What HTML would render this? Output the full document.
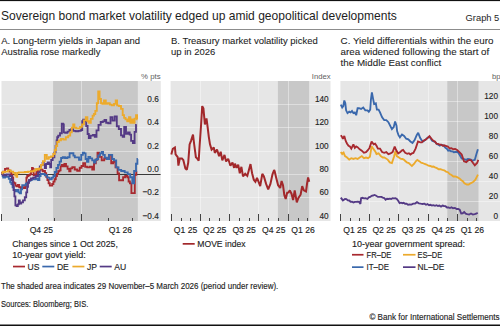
<!DOCTYPE html>
<html><head><meta charset="utf-8"><style>
html,body{margin:0;padding:0;background:#fff;width:500px;height:326px;overflow:hidden}
svg{display:block}
text{font-family:"Liberation Sans",sans-serif}
</style></head><body>
<svg width="500" height="326" viewBox="0 0 500 326">
<rect x="0" y="0" width="500" height="1.1" fill="#111"/>
<rect x="0" y="29" width="500" height="1" fill="#8c8c8c"/>
<rect x="0" y="324.5" width="500" height="1.5" fill="#111"/>
<text x="1" y="20" font-size="12.05" text-anchor="start" fill="#1e1e1e" stroke="#1e1e1e" stroke-width="0" >Sovereign bond market volatility edged up amid geopolitical developments</text>
<text x="499.3" y="20.7" font-size="9.33" text-anchor="end" fill="#1e1e1e" stroke="#1e1e1e" stroke-width="0" >Graph 5</text>
<text x="1.2" y="44.1" font-size="9.5" text-anchor="start" fill="#1e1e1e" stroke="#1e1e1e" stroke-width="0.08" >A. Long-term yields in Japan and</text>
<text x="1.2" y="54.85" font-size="9.5" text-anchor="start" fill="#1e1e1e" stroke="#1e1e1e" stroke-width="0.08" >Australia rose markedly</text>
<text x="171" y="44.1" font-size="9.5" text-anchor="start" fill="#1e1e1e" stroke="#1e1e1e" stroke-width="0.08" >B. Treasury market volatility picked</text>
<text x="171" y="54.85" font-size="9.5" text-anchor="start" fill="#1e1e1e" stroke="#1e1e1e" stroke-width="0.08" >up in 2026</text>
<text x="340.6" y="44.1" font-size="9.8" text-anchor="start" fill="#1e1e1e" stroke="#1e1e1e" stroke-width="0.08" >C. Yield differentials within the euro</text>
<text x="340.6" y="54.85" font-size="9.8" text-anchor="start" fill="#1e1e1e" stroke="#1e1e1e" stroke-width="0.08" >area widened following the start of</text>
<text x="340.6" y="65.6" font-size="9.8" text-anchor="start" fill="#1e1e1e" stroke="#1e1e1e" stroke-width="0.08" >the Middle East conflict</text>
<rect x="1.5" y="81" width="159.3" height="140" fill="#e6e6e6"/>
<rect x="53.1" y="81" width="84.70000000000002" height="140" fill="#c8c8c8"/>
<rect x="1.5" y="104" width="159.3" height="1" fill="rgba(255,255,255,0.4)"/>
<rect x="1.5" y="127" width="159.3" height="1" fill="rgba(255,255,255,0.4)"/>
<rect x="1.5" y="151" width="159.3" height="1" fill="rgba(255,255,255,0.4)"/>
<rect x="1.5" y="197" width="159.3" height="1" fill="rgba(255,255,255,0.4)"/>
<rect x="81" y="81" width="1" height="140" fill="rgba(255,255,255,0.4)"/>
<rect x="1" y="214" width="1" height="7" fill="#444"/>
<rect x="81" y="214" width="1" height="7" fill="#444"/>
<rect x="28" y="218" width="1" height="3" fill="#444"/>
<rect x="54" y="218" width="1" height="3" fill="#444"/>
<rect x="108" y="218" width="1" height="3" fill="#444"/>
<rect x="132" y="218" width="1" height="3" fill="#444"/>
<rect x="170.6" y="81" width="159.9" height="140" fill="#e6e6e6"/>
<rect x="277.9044" y="81" width="31.204899999999952" height="140" fill="#c8c8c8"/>
<rect x="170.6" y="104" width="159.9" height="1" fill="rgba(255,255,255,0.4)"/>
<rect x="170.6" y="127" width="159.9" height="1" fill="rgba(255,255,255,0.4)"/>
<rect x="170.6" y="151" width="159.9" height="1" fill="rgba(255,255,255,0.4)"/>
<rect x="170.6" y="174" width="159.9" height="1" fill="rgba(255,255,255,0.4)"/>
<rect x="170.6" y="197" width="159.9" height="1" fill="rgba(255,255,255,0.4)"/>
<rect x="200" y="81" width="1" height="140" fill="rgba(255,255,255,0.4)"/>
<rect x="229" y="81" width="1" height="140" fill="rgba(255,255,255,0.4)"/>
<rect x="258" y="81" width="1" height="140" fill="rgba(255,255,255,0.4)"/>
<rect x="288" y="81" width="1" height="140" fill="rgba(255,255,255,0.4)"/>
<rect x="171" y="214" width="1" height="7" fill="#444"/>
<rect x="200" y="214" width="1" height="7" fill="#444"/>
<rect x="229" y="214" width="1" height="7" fill="#444"/>
<rect x="258" y="214" width="1" height="7" fill="#444"/>
<rect x="288" y="214" width="1" height="7" fill="#444"/>
<rect x="181" y="218" width="1" height="3" fill="#444"/>
<rect x="190" y="218" width="1" height="3" fill="#444"/>
<rect x="209" y="218" width="1" height="3" fill="#444"/>
<rect x="219" y="218" width="1" height="3" fill="#444"/>
<rect x="239" y="218" width="1" height="3" fill="#444"/>
<rect x="249" y="218" width="1" height="3" fill="#444"/>
<rect x="268" y="218" width="1" height="3" fill="#444"/>
<rect x="278" y="218" width="1" height="3" fill="#444"/>
<rect x="298" y="218" width="1" height="3" fill="#444"/>
<rect x="307" y="218" width="1" height="3" fill="#444"/>
<rect x="340.4" y="81" width="159.60000000000002" height="140" fill="#e6e6e6"/>
<rect x="447.3044" y="81" width="31.20490000000001" height="140" fill="#c8c8c8"/>
<rect x="340.4" y="101" width="159.60000000000002" height="1" fill="rgba(255,255,255,0.4)"/>
<rect x="340.4" y="121" width="159.60000000000002" height="1" fill="rgba(255,255,255,0.4)"/>
<rect x="340.4" y="141" width="159.60000000000002" height="1" fill="rgba(255,255,255,0.4)"/>
<rect x="340.4" y="161" width="159.60000000000002" height="1" fill="rgba(255,255,255,0.4)"/>
<rect x="340.4" y="181" width="159.60000000000002" height="1" fill="rgba(255,255,255,0.4)"/>
<rect x="340.4" y="201" width="159.60000000000002" height="1" fill="rgba(255,255,255,0.4)"/>
<rect x="369" y="81" width="1" height="140" fill="rgba(255,255,255,0.4)"/>
<rect x="398" y="81" width="1" height="140" fill="rgba(255,255,255,0.4)"/>
<rect x="428" y="81" width="1" height="140" fill="rgba(255,255,255,0.4)"/>
<rect x="457" y="81" width="1" height="140" fill="rgba(255,255,255,0.4)"/>
<rect x="340" y="214" width="1" height="7" fill="#444"/>
<rect x="369" y="214" width="1" height="7" fill="#444"/>
<rect x="398" y="214" width="1" height="7" fill="#444"/>
<rect x="428" y="214" width="1" height="7" fill="#444"/>
<rect x="457" y="214" width="1" height="7" fill="#444"/>
<rect x="350" y="218" width="1" height="3" fill="#444"/>
<rect x="359" y="218" width="1" height="3" fill="#444"/>
<rect x="379" y="218" width="1" height="3" fill="#444"/>
<rect x="389" y="218" width="1" height="3" fill="#444"/>
<rect x="408" y="218" width="1" height="3" fill="#444"/>
<rect x="418" y="218" width="1" height="3" fill="#444"/>
<rect x="438" y="218" width="1" height="3" fill="#444"/>
<rect x="447" y="218" width="1" height="3" fill="#444"/>
<rect x="467" y="218" width="1" height="3" fill="#444"/>
<rect x="476" y="218" width="1" height="3" fill="#444"/>
<rect x="1.5" y="174" width="159.1" height="1" fill="#3a3a3a"/>
<polyline points="1.8,173.5 2.1,173.5 2.1,172.8 3.2,172.8 3.2,171.6 5.0,171.6 5.0,168.8 6.8,168.8 6.8,168.4 8.2,168.4 8.2,170.4 9.6,170.4 9.6,171.6 11.2,171.6 11.2,174.4 12.4,174.4 12.4,177.6 13.2,177.6 13.2,182.4 14.2,182.4 14.2,183.2 15.4,183.2 15.4,185.6 16.6,185.6 16.6,186.4 17.8,186.4 17.8,184.8 19.2,184.8 19.2,187.2 20.8,187.2 20.8,188.0 22.4,188.0 22.4,187.2 24.0,187.2 24.0,188.0 25.4,188.0 25.4,185.6 26.4,185.6 26.4,177.6 27.2,177.6 27.2,176.0 28.4,176.0 28.4,175.2 29.8,175.2 29.8,174.4 31.0,174.4 31.0,171.2 32.0,171.2 32.0,168.0 32.8,168.0 32.8,168.8 33.6,168.8 33.6,175.2 34.8,175.2 34.8,174.4 36.4,174.4 36.4,172.0 38.0,172.0 38.0,170.4 39.6,170.4 39.6,168.8 41.2,168.8 41.2,169.6 42.6,169.6 42.6,171.2 43.8,171.2 43.8,170.8 45.0,170.8 45.0,173.2 46.2,173.2 46.2,176.8 47.4,176.8 47.4,180.0 48.6,180.0 48.6,183.2 49.8,183.2 49.8,185.6 51.0,185.6 51.0,185.6 52.2,185.6 52.2,184.0 53.4,184.0 53.4,181.6 54.6,181.6 54.6,179.2 55.8,179.2 55.8,176.0 57.0,176.0 57.0,173.6 58.2,173.6 58.2,171.2 59.4,171.2 59.4,170.4 60.6,170.4 60.6,166.4 61.8,166.4 61.8,164.8 63.0,164.8 63.0,166.4 64.4,166.4 64.4,164.0 66.0,164.0 66.0,166.4 67.6,166.4 67.6,168.8 69.2,168.8 69.2,171.2 70.5,171.2 70.5,168.3 72.3,168.3 72.3,167.1 74.7,167.1 74.7,169.5 77.2,169.5 77.2,170.7 79.7,170.7 79.7,167.7 81.5,167.7 81.5,166.0 83.2,166.0 83.2,163.2 85.2,163.2 85.2,166.7 87.3,166.7 87.3,167.4 89.8,167.4 89.8,166.7 92.2,166.7 92.2,169.5 94.0,169.5 94.0,163.2 95.8,163.2 95.8,159.7 97.5,159.7 97.5,152.7 99.2,152.7 99.2,156.9 101.7,156.9 101.7,160.4 104.2,160.4 104.2,158.3 106.6,158.3 106.6,159.0 109.0,159.0 109.0,154.8 111.2,154.8 111.2,163.2 113.2,163.2 113.2,161.8 115.5,161.8 115.5,167.4 117.6,167.4 117.6,173.5 119.1,173.5 119.1,180.2 121.0,180.2 121.0,180.2 123.1,180.2 123.1,177.2 125.2,177.2 125.2,176.0 127.4,176.0 127.4,177.2 128.6,177.2 128.6,181.5 129.9,181.5 129.9,183.3 131.4,183.3 131.4,193.1 132.9,193.1 132.9,193.1 134.8,193.1 134.8,174.7 136.3,174.7 136.3,171.0 136.9,171.0" fill="none" stroke="#a8292f" stroke-width="1.85" stroke-linejoin="miter" stroke-miterlimit="2" stroke-linecap="butt"/>
<polyline points="1.8,176.0 2.1,176.0 2.1,176.0 3.2,176.0 3.2,177.6 5.0,177.6 5.0,176.8 7.0,176.8 7.0,176.4 8.8,176.4 8.8,178.8 10.2,178.8 10.2,182.4 11.4,182.4 11.4,184.0 12.6,184.0 12.6,187.2 13.8,187.2 13.8,190.0 15.2,190.0 15.2,191.2 17.0,191.2 17.0,190.0 18.6,190.0 18.6,192.4 19.8,192.4 19.8,193.2 21.0,193.2 21.0,189.2 22.2,189.2 22.2,185.2 23.8,185.2 23.8,185.2 25.8,185.2 25.8,183.6 27.4,183.6 27.4,182.4 28.8,182.4 28.8,180.8 30.4,180.8 30.4,180.0 31.8,180.0 31.8,179.2 33.6,179.2 33.6,179.2 36.0,179.2 36.0,178.4 38.0,178.4 38.0,180.0 39.4,180.0 39.4,176.0 40.6,176.0 40.6,174.0 42.4,174.0 42.4,174.0 44.8,174.0 44.8,175.2 47.2,175.2 47.2,177.6 49.6,177.6 49.6,179.2 51.8,179.2 51.8,177.6 53.4,177.6 53.4,176.0 54.8,176.0 54.8,172.0 56.4,172.0 56.4,168.0 58.0,168.0 58.0,164.8 59.6,164.8 59.6,161.6 61.1,161.6 61.1,158.0 62.8,158.0 62.8,157.2 65.0,157.2 65.0,158.0 67.4,158.0 67.4,157.2 69.6,157.2 69.6,153.2 71.6,153.2 71.6,153.2 73.4,153.2 73.4,155.6 74.8,155.6 74.8,157.3 76.6,157.3 76.6,157.3 79.0,157.3 79.0,159.7 81.2,159.7 81.2,154.8 82.8,154.8 82.8,152.7 84.2,152.7 84.2,153.4 85.6,153.4 85.6,159.0 87.0,159.0 87.0,161.8 88.4,161.8 88.4,156.9 90.2,156.9 90.2,158.3 92.2,158.3 92.2,160.4 94.0,160.4 94.0,162.5 95.4,162.5 95.4,159.7 96.8,159.7 96.8,159.0 98.2,159.0 98.2,155.5 100.0,155.5 100.0,153.4 101.7,153.4 101.7,152.0 103.1,152.0 103.1,154.8 104.8,154.8 104.8,157.6 107.0,157.6 107.0,159.0 109.0,159.0 109.0,154.8 110.8,154.8 110.8,154.8 112.2,154.8 112.2,159.0 114.0,159.0 114.0,160.4 116.2,160.4 116.2,167.4 118.5,167.4 118.5,169.8 121.2,169.8 121.2,171.0 124.7,171.0 124.7,172.3 127.7,172.3 127.7,174.1 130.2,174.1 130.2,177.2 132.3,177.2 132.3,183.3 134.1,183.3 134.1,171.0 136.0,171.0 136.0,163.7 137.4,163.7 137.4,159.0 137.9,159.0" fill="none" stroke="#3a68ac" stroke-width="1.85" stroke-linejoin="miter" stroke-miterlimit="2" stroke-linecap="butt"/>
<polyline points="1.8,174.7 2.1,174.7 2.1,174.4 3.6,174.4 3.6,175.2 6.4,175.2 6.4,174.4 9.6,174.4 9.6,176.0 11.8,176.0 11.8,180.0 12.8,180.0 12.8,184.8 13.6,184.8 13.6,190.0 14.4,190.0 14.4,196.4 15.4,196.4 15.4,205.2 16.6,205.2 16.6,206.0 17.8,206.0 17.8,204.4 18.8,204.4 18.8,200.4 19.8,200.4 19.8,203.6 21.2,203.6 21.2,202.4 23.0,202.4 23.0,200.4 24.8,200.4 24.8,197.2 26.2,197.2 26.2,192.4 27.2,192.4 27.2,186.8 28.0,186.8 28.0,182.8 29.0,182.8 29.0,180.0 30.8,180.0 30.8,178.4 33.2,178.4 33.2,177.6 35.6,177.6 35.6,176.0 38.0,176.0 38.0,172.6 39.8,172.6 39.8,166.4 41.2,166.4 41.2,164.8 42.6,164.8 42.6,162.8 43.8,162.8 43.8,164.8 44.8,164.8 44.8,168.0 46.0,168.0 46.0,164.0 47.6,164.0 47.6,162.4 49.0,162.4 49.0,164.0 50.2,164.0 50.2,167.2 51.2,167.2 51.2,160.0 52.7,160.0 52.7,157.2 54.4,157.2 54.4,152.4 55.6,152.4 55.6,146.0 56.6,146.0 56.6,140.4 57.2,140.4 57.2,137.2 58.2,137.2 58.2,135.6 60.0,135.6 60.0,133.2 61.8,133.2 61.8,123.6 63.0,123.6 63.0,124.4 63.8,124.4 63.8,132.4 65.2,132.4 65.2,132.8 67.4,132.8 67.4,131.6 69.4,131.6 69.4,130.0 71.2,130.0 71.2,129.2 73.2,129.2 73.2,130.8 75.6,130.8 75.6,131.2 78.4,131.2 78.4,130.8 80.8,130.8 80.8,130.0 82.2,130.0 82.2,121.2 83.2,121.2 83.2,119.6 84.6,119.6 84.6,120.8 86.2,120.8 86.2,126.0 87.6,126.0 87.6,134.0 88.8,134.0 88.8,138.0 90.6,138.0 90.6,135.6 93.0,135.6 93.0,134.8 94.8,134.8 94.8,136.7 96.5,136.7 96.5,130.4 98.5,130.4 98.5,124.8 100.7,124.8 100.7,122.0 102.8,122.0 102.8,121.3 104.5,121.3 104.5,119.9 106.2,119.9 106.2,122.7 108.3,122.7 108.3,123.4 110.5,123.4 110.5,117.1 112.5,117.1 112.5,120.6 114.7,120.6 114.7,116.4 116.8,116.4 116.8,126.2 118.8,126.2 118.8,129.0 121.0,129.0 121.0,135.3 122.7,135.3 122.7,136.7 124.2,136.7 124.2,126.9 126.0,126.9 126.0,133.9 128.0,133.9 128.0,132.5 129.7,132.5 129.7,134.6 131.1,134.6 131.1,140.9 132.9,140.9 132.9,143.0 134.6,143.0 134.6,131.8 136.0,131.8 136.0,124.8 136.7,124.8" fill="none" stroke="#543a85" stroke-width="1.85" stroke-linejoin="miter" stroke-miterlimit="2" stroke-linecap="butt"/>
<polyline points="1.8,173.4 2.5,173.4 2.5,172.0 4.8,172.0 4.8,171.6 8.0,171.6 8.0,170.4 10.8,170.4 10.8,171.6 13.2,171.6 13.2,172.8 15.2,172.8 15.2,175.2 16.4,175.2 16.4,176.8 17.2,176.8 17.2,172.8 18.8,172.8 18.8,172.4 21.6,172.4 21.6,172.4 24.8,172.4 24.8,172.0 28.0,172.0 28.0,171.6 31.2,171.6 31.2,171.2 34.0,171.2 34.0,170.4 36.0,170.4 36.0,168.8 37.6,168.8 37.6,169.6 39.2,169.6 39.2,168.4 41.0,168.4 41.0,164.8 42.9,164.8 42.9,161.2 44.8,161.2 44.8,154.8 46.8,154.8 46.8,158.8 48.8,158.8 48.8,157.2 51.0,157.2 51.0,156.4 53.2,156.4 53.2,154.0 54.8,154.0 54.8,150.0 56.0,150.0 56.0,146.0 57.2,146.0 57.2,142.0 58.8,142.0 58.8,140.4 61.0,140.4 61.0,138.8 63.4,138.8 63.4,139.6 65.8,139.6 65.8,137.2 68.2,137.2 68.2,135.6 70.2,135.6 70.2,132.4 71.8,132.4 71.8,127.6 73.2,127.6 73.2,124.4 74.4,124.4 74.4,127.6 76.2,127.6 76.2,128.4 78.2,128.4 78.2,128.4 80.0,128.4 80.0,126.8 82.0,126.8 82.0,124.4 84.0,124.4 84.0,120.4 85.8,120.4 85.8,117.2 87.4,117.2 87.4,121.2 89.0,121.2 89.0,122.8 90.8,122.8 90.8,118.8 92.6,118.8 92.6,115.6 94.0,115.6 94.0,114.0 95.3,114.0 95.3,110.9 96.8,110.9 96.8,103.2 98.2,103.2 98.2,91.3 99.6,91.3 99.6,99.0 101.0,99.0 101.0,103.2 102.4,103.2 102.4,103.9 104.0,103.9 104.0,100.4 105.8,100.4 105.8,103.9 107.7,103.9 107.7,103.2 109.8,103.2 109.8,104.6 111.8,104.6 111.8,105.3 114.0,105.3 114.0,103.9 115.7,103.9 115.7,100.4 117.1,100.4 117.1,105.3 118.8,105.3 118.8,106.0 121.0,106.0 121.0,108.8 122.7,108.8 122.7,115.1 124.1,115.1 124.1,117.9 125.5,117.9 125.5,119.3 127.2,119.3 127.2,121.4 129.0,121.4 129.0,117.2 130.4,117.2 130.4,122.8 131.8,122.8 131.8,119.3 133.2,119.3 133.2,122.8 134.6,122.8 134.6,118.6 136.0,118.6 136.0,115.1 137.1,115.1 137.1,119.3 137.4,119.3" fill="none" stroke="#ecaa2c" stroke-width="1.85" stroke-linejoin="miter" stroke-miterlimit="2" stroke-linecap="butt"/>
<polyline points="171.3,154.4 172.8,148.8 174.9,147.4 175.6,154.4 177.7,157.2 178.4,165.6 179.8,158.6 181.9,158.6 183.3,160.0 185.4,168.4 186.8,169.8 188.2,162.8 189.6,144.5 191.1,140.6 193.0,134.5 194.2,144.5 195.9,157.2 197.3,158.6 198.7,160.7 199.6,146.0 201.1,124.5 202.2,106.1 203.4,108.4 204.2,116.9 204.9,124.5 206.5,118.4 207.7,127.6 208.8,136.8 210.0,144.3 211.6,149.6 213.8,147.5 214.8,152.9 217.0,149.6 219.1,156.1 220.7,151.8 222.3,160.4 224.5,155.0 226.1,161.4 228.2,158.8 230.4,165.7 232.5,162.5 234.1,167.9 235.0,163.6 236.6,167.9 238.2,164.6 239.8,173.2 241.4,166.8 243.0,176.4 245.2,173.8 247.3,175.9 248.9,170.0 250.5,164.1 252.1,173.2 253.8,179.7 255.4,181.8 257.0,178.0 258.6,181.8 260.2,186.1 262.3,173.8 263.9,176.4 266.1,183.9 268.2,189.3 270.4,183.9 272.5,174.3 274.1,170.0 274.7,171.4 276.0,176.9 278.1,185.2 280.2,188.0 281.6,181.0 283.0,185.2 284.3,194.9 285.7,199.0 287.2,192.6 288.5,192.5 289.8,190.4 291.5,193.7 293.1,200.1 294.7,190.4 296.8,202.3 298.4,198.0 300.6,194.7 302.2,186.1 303.8,190.4 306.0,191.5 307.0,184.0 308.1,177.5 309.2,181.8" fill="none" stroke="#a2282b" stroke-width="2.0" stroke-linejoin="miter" stroke-miterlimit="2" stroke-linecap="butt"/>
<polyline points="340.8,197.6 342.9,200.4 345.0,199.0 346.4,199.1 347.8,200.4 349.2,200.5 350.6,201.8 352.0,201.7 353.4,202.5 354.8,201.8 356.2,201.8 357.6,201.6 359.0,201.8 360.4,203.9 361.1,198.3 362.5,197.8 363.9,198.3 365.6,198.2 367.4,199.0 368.8,197.4 370.2,196.9 371.6,195.8 373.0,195.5 374.4,194.9 375.8,195.5 377.9,196.9 380.0,196.9 381.4,196.9 382.8,197.6 384.2,198.0 385.6,199.7 387.0,198.8 388.4,199.0 389.8,198.6 391.2,199.0 392.6,198.2 394.0,198.3 395.4,198.1 396.8,199.0 398.2,200.8 399.6,203.2 401.0,202.7 402.4,203.2 403.7,202.8 405.0,203.7 406.5,203.6 408.0,204.8 409.5,204.5 411.4,204.6 413.2,203.7 415.1,203.6 417.0,202.2 418.9,203.3 420.7,203.7 422.6,204.0 424.5,203.7 426.0,204.8 427.5,204.1 429.0,205.2 430.5,204.8 432.0,205.5 433.5,205.2 435.0,205.8 436.5,205.2 438.0,206.0 439.5,205.6 441.0,206.7 442.5,205.5 444.0,206.0 445.5,206.2 447.0,207.5 448.5,207.5 450.0,208.1 451.5,207.3 453.0,208.2 454.9,207.9 456.7,209.0 458.2,208.9 459.7,209.7 461.2,213.5 462.7,213.3 464.2,212.0 465.7,213.7 467.2,214.2 469.1,214.5 471.0,213.5 472.9,214.5 474.7,214.2 476.2,213.7 477.7,212.7" fill="none" stroke="#543a85" stroke-width="1.85" stroke-linejoin="miter" stroke-miterlimit="2" stroke-linecap="butt"/>
<polyline points="340.8,151.9 342.2,154.0 343.6,152.6 345.0,156.1 347.1,157.5 349.2,159.6 351.3,158.2 353.4,158.9 355.5,158.2 357.6,158.9 359.7,157.5 361.8,156.1 363.9,158.2 366.0,157.5 368.1,158.2 369.9,156.8 371.6,146.3 373.0,148.4 375.1,151.2 376.5,154.0 378.6,153.3 380.7,156.1 382.8,157.5 384.2,157.5 385.6,158.2 387.7,159.6 389.8,162.4 391.9,163.1 394.0,156.8 395.4,151.2 396.8,156.1 398.9,157.5 401.0,158.9 402.4,159.0 403.8,159.6 405.0,160.7 406.9,162.4 408.8,163.0 410.4,164.7 411.9,166.0 414.2,163.7 415.8,161.3 417.3,159.9 419.6,161.4 421.1,162.6 422.6,163.0 424.6,164.0 426.5,164.5 428.4,165.7 430.3,166.0 431.9,166.7 433.4,166.5 435.0,167.4 436.9,168.1 438.7,169.2 440.5,169.2 442.4,169.8 444.2,170.3 446.0,171.6 447.9,172.2 449.7,174.1 451.5,175.0 453.4,176.5 455.2,176.5 457.1,177.2 459.5,178.4 461.3,180.2 462.9,181.2 464.4,183.3 466.9,184.5 468.7,184.6 470.5,183.3 473.0,182.1 475.4,179.6 477.3,175.9 477.9,174.7" fill="none" stroke="#ecaa2c" stroke-width="1.85" stroke-linejoin="miter" stroke-miterlimit="2" stroke-linecap="butt"/>
<polyline points="340.8,104.7 342.2,107.5 343.3,106.1 344.3,100.5 345.3,103.3 346.1,110.3 347.5,113.1 349.2,111.7 350.6,112.4 352.0,111.0 353.4,113.1 354.8,112.4 356.2,115.2 357.6,108.2 359.0,108.2 361.1,108.9 363.2,107.5 365.3,110.3 367.4,110.3 368.8,111.7 370.2,109.6 370.9,99.8 371.9,92.5 373.0,98.4 374.1,104.0 375.8,103.3 376.9,109.6 378.6,109.6 380.0,112.4 382.1,117.3 384.2,120.1 386.3,120.1 388.4,122.2 390.5,126.4 391.9,129.2 393.7,127.1 395.1,121.5 396.5,125.7 397.1,131.0 398.5,135.2 399.9,137.3 402.0,134.5 404.1,135.9 406.2,138.7 408.3,139.4 410.4,141.5 412.5,142.9 414.6,140.1 416.7,135.2 418.2,132.8 420.2,138.0 421.6,140.1 423.0,141.5 425.1,140.1 427.2,138.0 428.6,137.2 430.0,137.3 432.1,140.8 434.2,141.5 435.6,142.5 437.0,144.3 438.4,144.7 439.8,145.7 441.2,144.7 442.6,145.0 444.0,146.2 445.4,147.8 446.8,148.7 448.2,150.6 449.6,150.3 451.0,151.3 452.4,151.3 453.8,152.2 455.2,152.0 457.5,151.8 459.4,154.5 461.7,158.4 464.0,159.1 466.3,159.9 467.9,159.0 469.4,159.1 470.9,159.7 472.5,160.7 474.8,159.9 476.3,154.5 477.9,149.2" fill="none" stroke="#3a68ac" stroke-width="1.85" stroke-linejoin="miter" stroke-miterlimit="2" stroke-linecap="butt"/>
<polyline points="340.8,135.3 341.9,136.7 342.9,138.8 344.3,136.0 345.7,140.9 347.1,143.7 348.5,145.8 349.9,146.5 351.3,148.6 353.4,144.4 354.8,147.9 356.2,146.5 357.6,147.2 359.7,149.3 361.8,150.7 363.9,152.8 366.0,152.1 368.1,150.0 369.5,147.9 371.6,141.6 373.7,144.4 375.1,143.7 376.5,145.8 377.9,148.6 380.0,148.6 382.1,152.1 384.2,152.8 386.3,152.1 388.4,154.2 390.5,153.5 392.6,152.1 394.7,146.5 396.1,150.0 398.2,153.5 400.3,152.1 401.7,150.6 403.1,150.0 405.2,152.8 407.3,153.8 408.9,153.2 410.4,154.5 411.9,153.4 413.4,153.0 415.7,148.4 418.0,141.5 420.3,142.3 421.9,142.3 423.4,140.7 425.3,139.9 427.2,138.4 429.5,136.1 431.8,139.2 433.4,140.8 434.9,141.5 436.4,143.6 438.0,143.8 439.5,144.6 441.0,144.6 442.6,145.7 444.1,145.3 446.4,146.1 447.9,146.6 449.5,148.4 451.4,148.2 453.3,149.2 455.2,148.9 457.1,149.9 459.4,152.2 461.7,154.5 464.0,161.4 466.3,162.2 467.9,160.6 469.4,159.9 470.9,160.2 472.5,162.2 474.8,165.3 477.1,163.0 478.3,159.9" fill="none" stroke="#a8292f" stroke-width="1.85" stroke-linejoin="miter" stroke-miterlimit="2" stroke-linecap="butt"/>
<g transform="translate(158.8,101.8) scale(0.9,1)"><text x="0" y="0" font-size="9.15" text-anchor="end" fill="#1e1e1e" stroke="#1e1e1e" stroke-width="0.14" >0.6</text></g>
<g transform="translate(158.8,125.2) scale(0.9,1)"><text x="0" y="0" font-size="9.15" text-anchor="end" fill="#1e1e1e" stroke="#1e1e1e" stroke-width="0.14" >0.4</text></g>
<g transform="translate(158.8,148.5) scale(0.9,1)"><text x="0" y="0" font-size="9.15" text-anchor="end" fill="#1e1e1e" stroke="#1e1e1e" stroke-width="0.14" >0.2</text></g>
<g transform="translate(158.8,171.8) scale(0.9,1)"><text x="0" y="0" font-size="9.15" text-anchor="end" fill="#1e1e1e" stroke="#1e1e1e" stroke-width="0.14" >0.0</text></g>
<g transform="translate(158.8,195.2) scale(0.9,1)"><text x="0" y="0" font-size="9.15" text-anchor="end" fill="#1e1e1e" stroke="#1e1e1e" stroke-width="0.14" >−0.2</text></g>
<g transform="translate(158.8,218.5) scale(0.9,1)"><text x="0" y="0" font-size="9.15" text-anchor="end" fill="#1e1e1e" stroke="#1e1e1e" stroke-width="0.14" >−0.4</text></g>
<g transform="translate(328.7,101.8) scale(0.9,1)"><text x="0" y="0" font-size="9.15" text-anchor="end" fill="#1e1e1e" stroke="#1e1e1e" stroke-width="0.14" >140</text></g>
<g transform="translate(328.7,125.2) scale(0.9,1)"><text x="0" y="0" font-size="9.15" text-anchor="end" fill="#1e1e1e" stroke="#1e1e1e" stroke-width="0.14" >120</text></g>
<g transform="translate(328.7,148.5) scale(0.9,1)"><text x="0" y="0" font-size="9.15" text-anchor="end" fill="#1e1e1e" stroke="#1e1e1e" stroke-width="0.14" >100</text></g>
<g transform="translate(328.7,171.8) scale(0.9,1)"><text x="0" y="0" font-size="9.15" text-anchor="end" fill="#1e1e1e" stroke="#1e1e1e" stroke-width="0.14" >80</text></g>
<g transform="translate(328.7,195.2) scale(0.9,1)"><text x="0" y="0" font-size="9.15" text-anchor="end" fill="#1e1e1e" stroke="#1e1e1e" stroke-width="0.14" >60</text></g>
<g transform="translate(328.7,218.5) scale(0.9,1)"><text x="0" y="0" font-size="9.15" text-anchor="end" fill="#1e1e1e" stroke="#1e1e1e" stroke-width="0.14" >40</text></g>
<g transform="translate(498,98.5) scale(0.9,1)"><text x="0" y="0" font-size="9.15" text-anchor="end" fill="#1e1e1e" stroke="#1e1e1e" stroke-width="0.14" >120</text></g>
<g transform="translate(498,118.5) scale(0.9,1)"><text x="0" y="0" font-size="9.15" text-anchor="end" fill="#1e1e1e" stroke="#1e1e1e" stroke-width="0.14" >100</text></g>
<g transform="translate(498,138.5) scale(0.9,1)"><text x="0" y="0" font-size="9.15" text-anchor="end" fill="#1e1e1e" stroke="#1e1e1e" stroke-width="0.14" >80</text></g>
<g transform="translate(498,158.5) scale(0.9,1)"><text x="0" y="0" font-size="9.15" text-anchor="end" fill="#1e1e1e" stroke="#1e1e1e" stroke-width="0.14" >60</text></g>
<g transform="translate(498,178.5) scale(0.9,1)"><text x="0" y="0" font-size="9.15" text-anchor="end" fill="#1e1e1e" stroke="#1e1e1e" stroke-width="0.14" >40</text></g>
<g transform="translate(498,198.5) scale(0.9,1)"><text x="0" y="0" font-size="9.15" text-anchor="end" fill="#1e1e1e" stroke="#1e1e1e" stroke-width="0.14" >20</text></g>
<g transform="translate(498,218.5) scale(0.9,1)"><text x="0" y="0" font-size="9.15" text-anchor="end" fill="#1e1e1e" stroke="#1e1e1e" stroke-width="0.14" >0</text></g>
<text x="160.6" y="79" font-size="7.8" text-anchor="end" fill="#5e5e5e" stroke="#5e5e5e" stroke-width="0" >% pts</text>
<text x="330.6" y="79" font-size="7.7" text-anchor="end" fill="#5e5e5e" stroke="#5e5e5e" stroke-width="0" >Index</text>
<text x="500.5" y="79" font-size="7.7" text-anchor="end" fill="#5e5e5e" stroke="#5e5e5e" stroke-width="0" >bp</text>
<text x="41.373999999999995" y="233" font-size="8.6" text-anchor="middle" fill="#1e1e1e" stroke="#1e1e1e" stroke-width="0.14" >Q4 25</text>
<text x="120.453" y="233" font-size="8.6" text-anchor="middle" fill="#1e1e1e" stroke="#1e1e1e" stroke-width="0.14" >Q1 26</text>
<text x="185.57649999999998" y="233" font-size="8.6" text-anchor="middle" fill="#1e1e1e" stroke="#1e1e1e" stroke-width="0.14" >Q1 25</text>
<text x="354.9765" y="233" font-size="8.6" text-anchor="middle" fill="#1e1e1e" stroke="#1e1e1e" stroke-width="0.14" >Q1 25</text>
<text x="214.69035" y="233" font-size="8.6" text-anchor="middle" fill="#1e1e1e" stroke="#1e1e1e" stroke-width="0.14" >Q2 25</text>
<text x="384.09035" y="233" font-size="8.6" text-anchor="middle" fill="#1e1e1e" stroke="#1e1e1e" stroke-width="0.14" >Q2 25</text>
<text x="244.1259" y="233" font-size="8.6" text-anchor="middle" fill="#1e1e1e" stroke="#1e1e1e" stroke-width="0.14" >Q3 25</text>
<text x="413.5259" y="233" font-size="8.6" text-anchor="middle" fill="#1e1e1e" stroke="#1e1e1e" stroke-width="0.14" >Q3 25</text>
<text x="273.7223" y="233" font-size="8.6" text-anchor="middle" fill="#1e1e1e" stroke="#1e1e1e" stroke-width="0.14" >Q4 25</text>
<text x="443.1223" y="233" font-size="8.6" text-anchor="middle" fill="#1e1e1e" stroke="#1e1e1e" stroke-width="0.14" >Q4 25</text>
<text x="302.99699999999996" y="233" font-size="8.6" text-anchor="middle" fill="#1e1e1e" stroke="#1e1e1e" stroke-width="0.14" >Q1 26</text>
<text x="472.397" y="233" font-size="8.6" text-anchor="middle" fill="#1e1e1e" stroke="#1e1e1e" stroke-width="0.14" >Q1 26</text>
<text x="12.3" y="247.2" font-size="8.75" text-anchor="start" fill="#1e1e1e" stroke="#1e1e1e" stroke-width="0.14" >Changes since 1 Oct 2025,</text>
<text x="12.3" y="258.4" font-size="9.0" text-anchor="start" fill="#1e1e1e" stroke="#1e1e1e" stroke-width="0.14" >10-year govt yield:</text>
<rect x="13" y="265.7" width="12" height="1.7" fill="#a8292f"/>
<text x="27.6" y="269.6" font-size="8.6" text-anchor="start" fill="#1e1e1e" stroke="#1e1e1e" stroke-width="0.14" >US</text>
<rect x="42.3" y="265.7" width="12" height="1.7" fill="#3a68ac"/>
<text x="56.9" y="269.6" font-size="8.6" text-anchor="start" fill="#1e1e1e" stroke="#1e1e1e" stroke-width="0.14" >DE</text>
<rect x="72.4" y="265.7" width="12" height="1.7" fill="#ecaa2c"/>
<text x="87.0" y="269.6" font-size="8.6" text-anchor="start" fill="#1e1e1e" stroke="#1e1e1e" stroke-width="0.14" >JP</text>
<rect x="99.7" y="265.7" width="12" height="1.7" fill="#543a85"/>
<text x="114.3" y="269.6" font-size="8.6" text-anchor="start" fill="#1e1e1e" stroke="#1e1e1e" stroke-width="0.14" >AU</text>
<rect x="182.7" y="243.0" width="12" height="1.7" fill="#a2282b"/>
<text x="197.29999999999998" y="246.9" font-size="8.6" text-anchor="start" fill="#1e1e1e" stroke="#1e1e1e" stroke-width="0.14" >MOVE index</text>
<text x="352" y="246.6" font-size="9.0" text-anchor="start" fill="#1e1e1e" stroke="#1e1e1e" stroke-width="0.14" >10-year government spread:</text>
<rect x="352" y="253.89999999999998" width="11.5" height="1.7" fill="#a8292f"/>
<text x="366.6" y="257.8" font-size="8.6" text-anchor="start" fill="#1e1e1e" stroke="#1e1e1e" stroke-width="0.14"  textLength="24.8" lengthAdjust="spacingAndGlyphs">FR–DE</text>
<rect x="403" y="253.89999999999998" width="12.5" height="1.7" fill="#ecaa2c"/>
<text x="417.6" y="257.8" font-size="8.6" text-anchor="start" fill="#1e1e1e" stroke="#1e1e1e" stroke-width="0.14"  textLength="24.6" lengthAdjust="spacingAndGlyphs">ES–DE</text>
<rect x="352" y="266.3" width="11.5" height="1.7" fill="#3a68ac"/>
<text x="366.6" y="270.20000000000005" font-size="8.6" text-anchor="start" fill="#1e1e1e" stroke="#1e1e1e" stroke-width="0.14"  textLength="22.4" lengthAdjust="spacingAndGlyphs">IT–DE</text>
<rect x="403" y="266.3" width="12.5" height="1.7" fill="#543a85"/>
<text x="417.6" y="270.20000000000005" font-size="8.6" text-anchor="start" fill="#1e1e1e" stroke="#1e1e1e" stroke-width="0.14"  textLength="26.8" lengthAdjust="spacingAndGlyphs">NL–DE</text>
<text x="1" y="289" font-size="8.5" text-anchor="start" fill="#1e1e1e" stroke="#1e1e1e" stroke-width="0.14"  textLength="277.3" lengthAdjust="spacingAndGlyphs">The shaded area indicates 29 November–5 March 2026 (period under review).</text>
<text x="1" y="306.6" font-size="8.5" text-anchor="start" fill="#1e1e1e" stroke="#1e1e1e" stroke-width="0.14"  textLength="87.3" lengthAdjust="spacingAndGlyphs">Sources: Bloomberg; BIS.</text>
<text x="499.6" y="320" font-size="8.5" text-anchor="end" fill="#1e1e1e" stroke="#1e1e1e" stroke-width="0.14"  textLength="130.2" lengthAdjust="spacingAndGlyphs">© Bank for International Settlements</text>
</svg>
</body></html>
